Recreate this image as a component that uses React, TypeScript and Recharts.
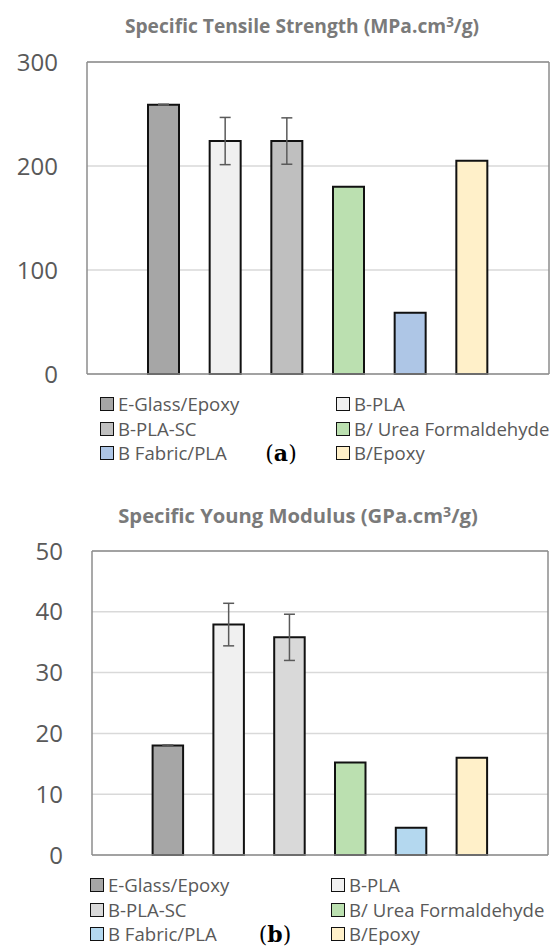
import React from 'react';
import { BarChart, Bar, XAxis, YAxis, CartesianGrid, Cell, ErrorBar } from 'recharts';

const materials = ['E-Glass/Epoxy', 'B-PLA', 'B-PLA-SC', 'B/ Urea Formaldehyde', 'B Fabric/PLA', 'B/Epoxy'];
const tensileValues = [259, 224, 224, 180, 59, 205];
const tensileErrors = [0.4, 22.7, 22.3, 0, 0, 0];
const modulusValues = [18, 37.9, 35.8, 15.2, 4.5, 16];
const modulusErrors = [0.1, 3.5, 3.8, 0, 0, 0];
const tensileTicks = [0, 100, 200, 300];
const modulusTicks = [0, 10, 20, 30, 40, 50];
const tensileColors = ['#a6a6a6', '#f0f0f0', '#bfbfbf', '#bbe0b0', '#aec6e6', '#fff0c9'];
const modulusColors = ['#a6a6a6', '#f0f0f0', '#d9d9d9', '#bbe0b0', '#b4d8ef', '#fff0c9'];
const legendOrder = [0, 1, 2, 3, 4, 5];

const tensileData = materials.map((name, i) => ({ name, value: tensileValues[i], err: tensileErrors[i] }));
const modulusData = materials.map((name, i) => ({ name, value: modulusValues[i], err: modulusErrors[i] }));

const AXIS_GRAY = '#8c8c8c';
const TEXT_GRAY = '#595959';
const frameLine = { stroke: AXIS_GRAY, strokeWidth: 1.5 };

function Title({ text, cx, cy, size }: { text: React.ReactNode; cx: number; cy: number; size: number }) {
  return (
    <div
      style={{
        position: 'absolute',
        left: cx - 250,
        top: cy - 13,
        width: 500,
        height: 26,
        lineHeight: '26px',
        textAlign: 'center',
        fontFamily: '"Open Sans", sans-serif',
        fontWeight: 700,
        fontSize: size,
        color: '#7a7a7a',
        whiteSpace: 'nowrap',
      }}
    >
      {text}
    </div>
  );
}

function LegendBlock({
  colors,
  col1,
  col2,
  rows,
  tag,
  tagX,
}: {
  colors: string[];
  col1: number;
  col2: number;
  rows: number[];
  tag: string;
  tagX: number;
}) {
  return (
    <>
      {legendOrder.map((idx, k) => {
        const left = k % 2 === 0 ? col1 : col2;
        const cy = rows[Math.floor(k / 2)];
        return (
          <div key={idx} style={{ position: 'absolute', left, top: cy - 12, height: 24, whiteSpace: 'nowrap' }}>
            <div
              style={{
                position: 'absolute',
                left: 0,
                top: 5,
                width: 14,
                height: 14,
                boxSizing: 'border-box',
                border: '1.8px solid #111',
                background: colors[idx],
              }}
            />
            <span
              style={{
                position: 'absolute',
                left: 18,
                top: 0,
                lineHeight: '24px',
                fontFamily: '"Open Sans", sans-serif',
                fontSize: 18.6,
                color: TEXT_GRAY,
              }}
            >
              {materials[idx]}
            </span>
          </div>
        );
      })}
      <div
        style={{
          position: 'absolute',
          left: tagX - 30,
          top: rows[2] - 14,
          width: 60,
          lineHeight: '28px',
          textAlign: 'center',
          fontFamily: '"DejaVu Serif", serif',
          fontSize: 22,
          color: '#000',
        }}
      >
        (<b>{tag}</b>)
      </div>
    </>
  );
}

const sup = <sup style={{ fontSize: '0.7em', verticalAlign: '0.45em', lineHeight: 0 }}>3</sup>;

export default function App() {
  return (
    <div style={{ position: 'absolute', left: 0, top: 0, width: 559, height: 952, background: '#fff' }}>
      <Title text={<>Specific Tensile Strength (MPa.cm{sup}/g)</>} cx={302} cy={26} size={19.2} />
      <div style={{ position: 'absolute', left: 0, top: 0 }}>
        <BarChart width={559} height={390} data={tensileData} margin={{ top: 61, right: 9, bottom: 15, left: 0 }}>
          <CartesianGrid vertical={false} stroke="#d9d9d9" strokeWidth={1.5} />
          <XAxis dataKey="name" height={1} tick={false} tickLine={false} axisLine={frameLine} padding={{ left: 46, right: 46 }} />
          <XAxis xAxisId="top" orientation="top" dataKey="name" height={1} tick={false} tickLine={false} axisLine={frameLine} />
          <YAxis
            domain={[0, 300]}
            ticks={tensileTicks}
            width={87}
            axisLine={frameLine}
            tickLine={false}
            tickSize={0}
            tickMargin={29}
            interval={0}
            tick={{ fill: TEXT_GRAY, fontSize: 24, fontFamily: '"Open Sans", sans-serif' }}
          />
          <YAxis yAxisId="right" orientation="right" domain={[0, 300]} width={1} tick={false} tickLine={false} axisLine={frameLine} />
          <Bar dataKey="value" barSize={31} stroke="#111" strokeWidth={2} isAnimationActive={false}>
            {tensileData.map((d, i) => (
              <Cell key={d.name} fill={tensileColors[i]} />
            ))}
            <ErrorBar dataKey="err" width={5.5} stroke="#5a5a5a" strokeWidth={1.5} direction="y" />
          </Bar>
        </BarChart>
      </div>
      <LegendBlock colors={tensileColors} col1={100} col2={336} rows={[404, 428.5, 453]} tag="a" tagX={281} />

      <Title text={<>Specific Young Modulus (GPa.cm{sup}/g)</>} cx={298} cy={515} size={20.2} />
      <div style={{ position: 'absolute', left: 0, top: 480 }}>
        <BarChart width={559} height={390} data={modulusData} margin={{ top: 70, right: 10, bottom: 14, left: 0 }}>
          <CartesianGrid vertical={false} stroke="#d9d9d9" strokeWidth={1.5} />
          <XAxis dataKey="name" height={1} tick={false} tickLine={false} axisLine={frameLine} padding={{ left: 45.6, right: 45.6 }} />
          <XAxis xAxisId="top" orientation="top" dataKey="name" height={1} tick={false} tickLine={false} axisLine={frameLine} />
          <YAxis
            domain={[0, 50]}
            ticks={modulusTicks}
            width={92}
            axisLine={frameLine}
            tickLine={false}
            tickSize={0}
            tickMargin={29}
            interval={0}
            tick={{ fill: TEXT_GRAY, fontSize: 24, fontFamily: '"Open Sans", sans-serif' }}
          />
          <YAxis yAxisId="right" orientation="right" domain={[0, 50]} width={1} tick={false} tickLine={false} axisLine={frameLine} />
          <Bar dataKey="value" barSize={30.5} stroke="#111" strokeWidth={2} isAnimationActive={false}>
            {modulusData.map((d, i) => (
              <Cell key={d.name} fill={modulusColors[i]} />
            ))}
            <ErrorBar dataKey="err" width={5.5} stroke="#5a5a5a" strokeWidth={1.5} direction="y" />
          </Bar>
        </BarChart>
      </div>
      <LegendBlock colors={modulusColors} col1={90} col2={331} rows={[885, 910, 934]} tag="b" tagX={275} />
    </div>
  );
}
